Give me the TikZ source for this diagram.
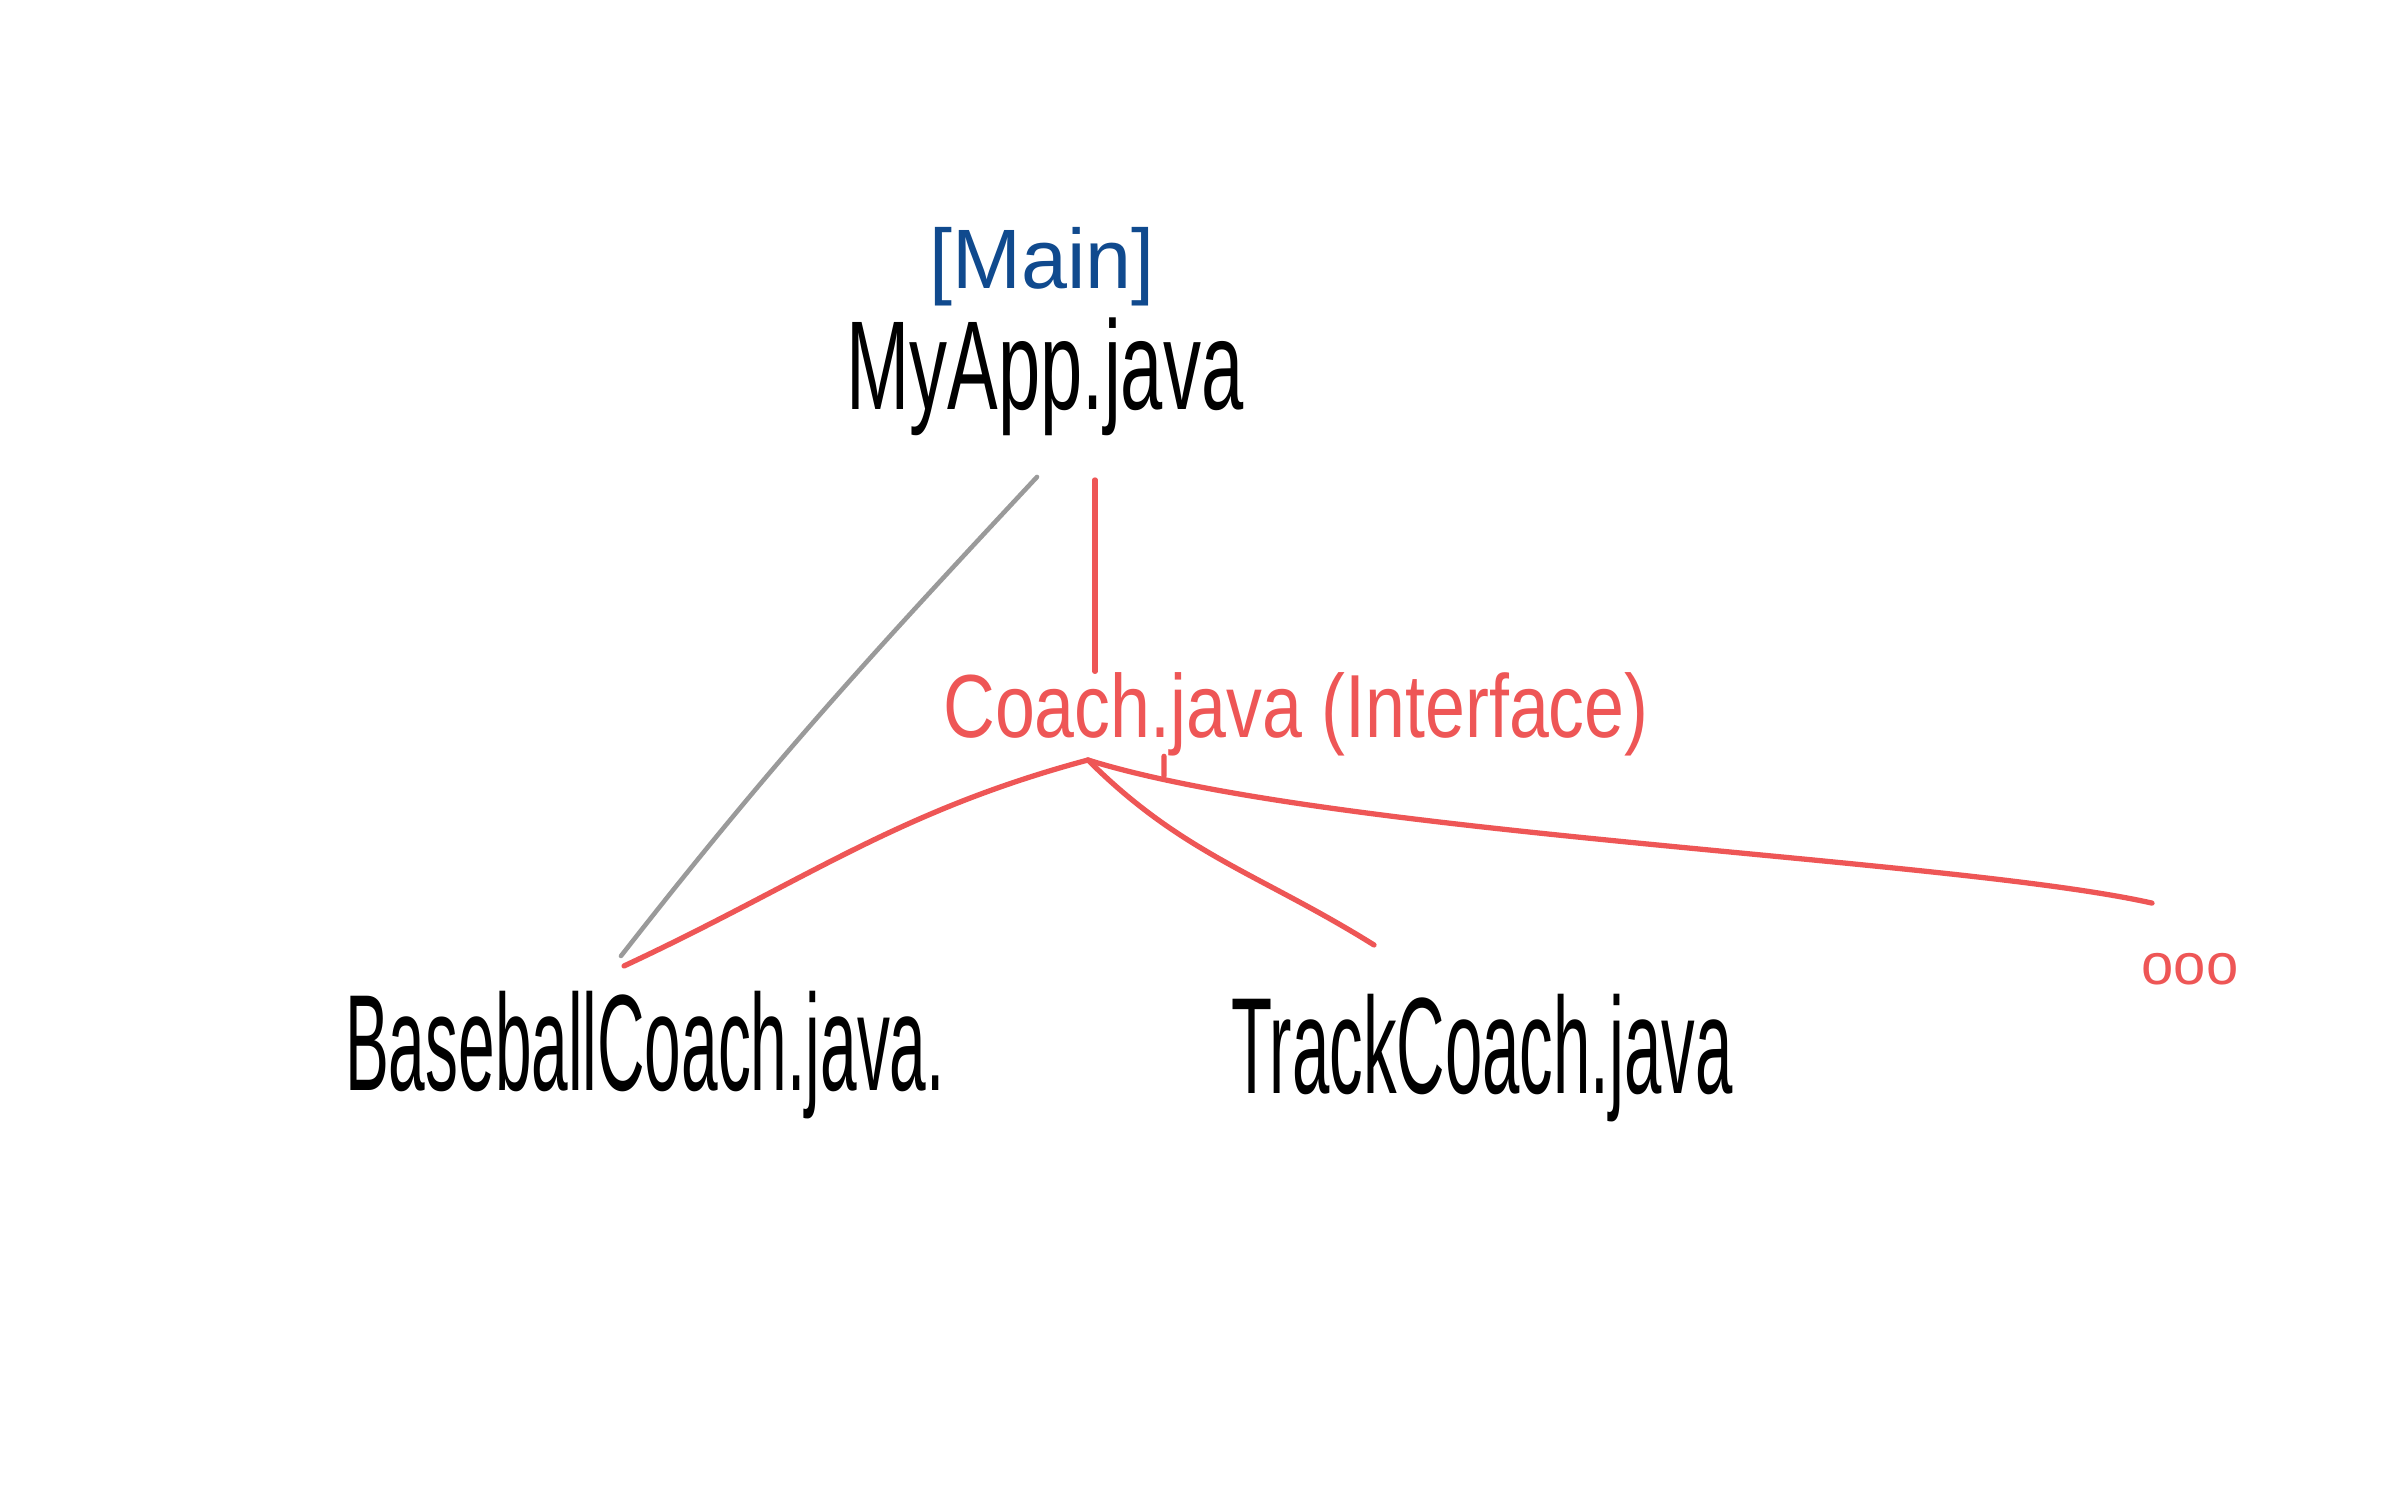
\documentclass[tikz,border=0pt]{standalone}
\usepackage{fontspec}
\setmainfont{Liberation Sans}
\definecolor{penred}{RGB}{238,86,86}
\definecolor{penblue}{RGB}{16,74,142}
\definecolor{pengray}{RGB}{154,154,154}
\newcommand{\squeeze}[2]{\scalebox{#1}[1]{#2}}

\begin{document}
\begin{tikzpicture}[
    penlabel/.style={inner sep=0pt, anchor=base},
    redline/.style={penred, line width=1.5pt, line cap=round},
    grayline/.style={pengray, line width=1.3pt, line cap=round}]
        \fill[white] (0,0) rectangle (23.86,14.91);
        \useasboundingbox (0,0) rectangle (23.86,14.91);
        % files
        \node[penlabel, text=penblue, font=\fontsize{24}{26}\selectfont] (main) at (10.42,12.02) {\squeeze{0.98}{[Main]}};
        \node[penlabel, font=\fontsize{36}{40}\selectfont] (myapp) at (10.45,10.81) {\squeeze{0.6}{MyApp.java}};
        \node[penlabel, text=penred, font=\fontsize{25.5}{28}\selectfont] (coach) at (12.96,7.54) {\squeeze{0.8}{Coach.java (Interface)}};
        \node[penlabel, font=\fontsize{39}{42}\selectfont] (baseball) at (6.45,4.01) {\squeeze{0.48}{BaseballCoach.java.}};
        \node[penlabel, font=\fontsize{39}{42}\selectfont] (track) at (14.82,3.98) {\squeeze{0.49}{TrackCoach.java}};
        \node[penlabel, text=penred, font=\fontsize{16.5}{18}\selectfont] (more) at (21.90,5.07) {ooo};
        % links
        \coordinate (apex) at (10.88,7.31);
        \coordinate (joint) at (11.64,7.15);
        \draw[grayline] ([xshift=-0.8mm,yshift=-4mm]myapp.south) to[out=227,in=52] ([xshift=-2.4mm,yshift=3.4mm]baseball.north);
        \draw[redline] ([xshift=5mm,yshift=-4.3mm]myapp.south) coordinate (tap) -- (tap |- coach.north);
        \draw[redline] ([xshift=-13.2mm]coach.south) -- (joint);
        \draw[redline] (apex) to[out=195,in=25] ([xshift=-2.1mm,yshift=2.4mm]baseball.north);
        \draw[redline] (apex) to[out=-45,in=148] ([xshift=-10.8mm,yshift=4.8mm]track.north);
        \draw[redline] (apex) .. controls +(2.4,-0.75) and +(-2,0.45) .. ([xshift=-3.8mm,yshift=4.9mm]more.north);
    \end{tikzpicture}
\end{document}
